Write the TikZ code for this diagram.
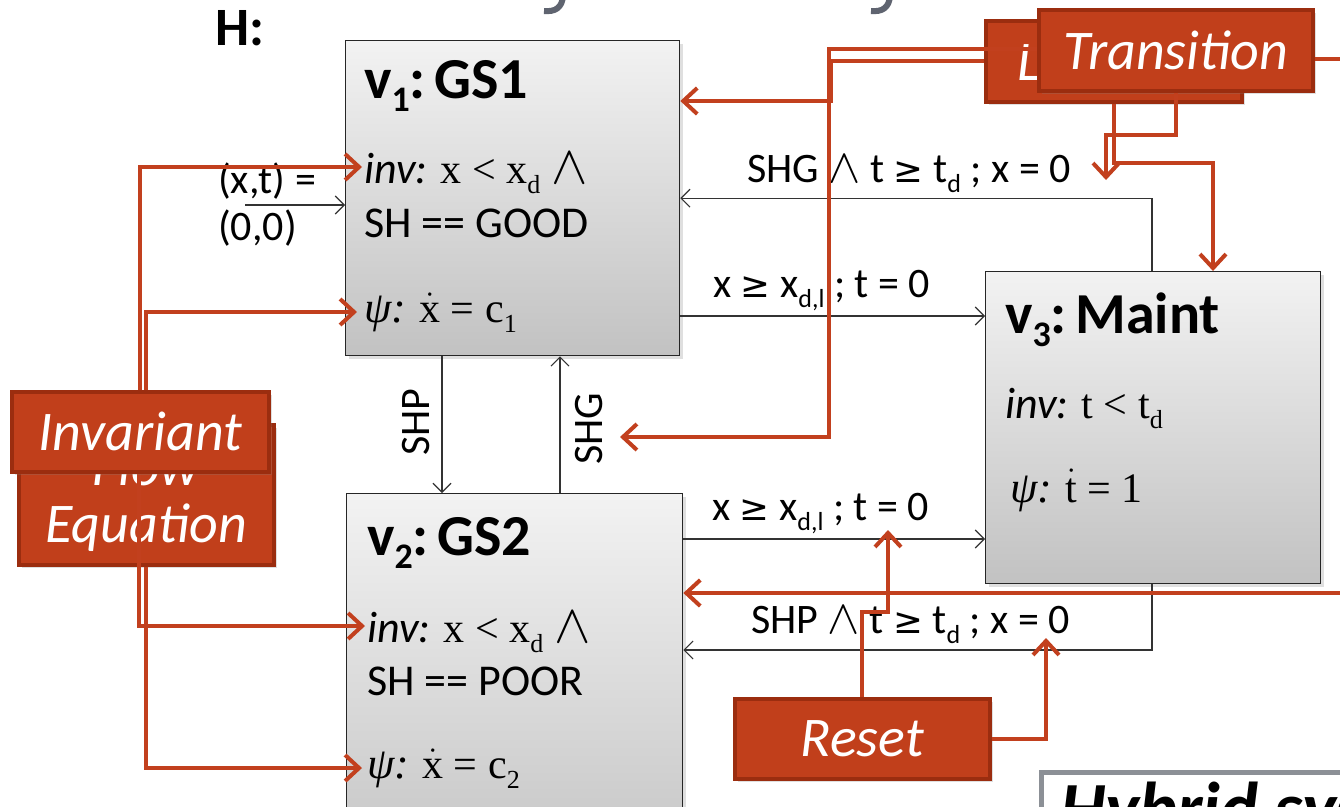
\documentclass[tikz,border=0pt]{standalone}
\usepackage{fix-cm}
\usepackage{fontspec}
\setmainfont{Carlito}
\newfontfamily\tms{Liberation Serif}
\newfontfamily\dvs{DejaVu Sans}
\usetikzlibrary{arrows.meta,shadows}
\definecolor{calfill}{HTML}{C13F1B}
\definecolor{calborder}{HTML}{9B2D0F}
\definecolor{calline}{HTML}{C2401E}
\definecolor{ttlgray}{HTML}{5F6470}
\definecolor{hybgray}{HTML}{8C9096}
\newcommand\mysub[1]{\raisebox{-0.24em}{\scalebox{0.62}{#1}}}
\newcommand\myge{{\dvs\scalebox{0.85}{≥}}}
\newcommand\myand[1]{\scalebox{#1}{\(\wedge\)}}
\newcommand\fs[1]{\fontsize{#1}{#1}\selectfont}
\begin{document}
\begin{tikzpicture}[x=1pt,y=-1pt,
  statebox/.style={draw=black!85, line width=1.3pt, top color=black!5, bottom color=black!24,
    inner sep=0pt, anchor=north west,
    drop shadow={shadow xshift=3pt, shadow yshift=-3pt, opacity=0.25}},
  tedge/.style={draw=black!80, line width=1.1pt, -{Straight Barb[length=9pt,width=18pt]}},
  txt/.style={anchor=base west, inner sep=0pt},
  ttl/.style={txt, font={\fs{58}\bfseries}},
  body/.style={txt, font={\fs{44}}},
  elab/.style={txt, font={\fs{42}}},
  callout/.style={fill=calfill, draw=calborder, line width=3.5pt, inner sep=0pt,
    anchor=north west, text=white, font={\fontsize{56}{57}\selectfont\itshape}, align=center,
    drop shadow={shadow xshift=3pt, shadow yshift=-3pt, opacity=0.25}},
  cline/.style={draw=calline, line width=4pt},
  carrow/.style={cline, -{Straight Barb[length=14pt,width=26pt]}},
]
\useasboundingbox (0,0) rectangle (1340,806);
\clip (0,0) rectangle (1340,806);
\fill[white] (0,0) rectangle (1340,806);

% fragments of the cut-off title
\draw[ttlgray, line width=6pt] (563,-4) .. controls (562,8) and (555,12) .. (544,11);
\draw[ttlgray, line width=6pt] (890,-4) .. controls (889,8) and (882,12) .. (871,11);

\node[txt, font={\fs{54}\bfseries}] (hlabel) at (215,45) {H:};

% states
\node[statebox, minimum width=334pt, minimum height=315pt] (v1) at (345,40) {};
\node[statebox, minimum width=336pt, minimum height=400pt] (v2) at (346,493) {};
\node[statebox, minimum width=335pt, minimum height=312pt] (v3) at (985,271) {};

% helper coordinates
\coordinate (e1) at (0,316);
\coordinate (e2) at (1152,0);
\coordinate (e3) at (0,539);
\coordinate (e4) at (0,650);
\coordinate (e5) at (442,0);
\coordinate (e6) at (560,0);
\coordinate (e7) at (245,205);

% transitions
\draw[tedge] (v1.east |- e1) -- (v3.west |- e1);
\draw[tedge] (v3.north -| e2) |- (v1.east);
\draw[tedge] (v2.east |- e3) -- (v3.west |- e3);
\draw[tedge] (v3.south -| e2) |- (v2.east |- e4);
\draw[tedge] (v1.south -| e5) -- (v2.north -| e5);
\draw[tedge] (v2.north -| e6) -- (v1.south -| e6);
\draw[tedge] (e7) -- (v1.west |- e7);

% transition labels
\node[elab] (l13) at (713,297) {x \myge{} x\mysub{d,l} ; t = 0};
\node[elab] (l31) at (747,182) {SHG \myand{1.15} t \myge{} t\mysub{d} ; x = 0};
\node[elab] (l23) at (712,520) {x \myge{} x\mysub{d,l} ; t = 0};
\node[elab] (l32) at (751,633) {SHP \myand{1.15} t \myge{} t\mysub{d} ; x = 0};
\node[rotate=90, inner sep=0pt, font={\fs{42}}] (shp) at (416,422) {SHP};
\node[rotate=90, inner sep=0pt, font={\fs{42}}] (shg) at (589,429) {SHG};
\node[elab] (init1) at (218,193) {(x,t) =};
\node[elab] (init2) at (218,240) {(0,0)};

% state contents
\node[ttl] (v1t) at (364,98) {v\mysub{1}:\hspace{0.15em}GS1};
\node[body] (v1i) at (364,183) {\textit{inv:} {\tms\fs{42}x < x\mysub{d} \myand{1.3}}};
\node[body] (v1s) at (364,237) {SH == GOOD};
\node[body] (v1p) at (364,322) {{\tms\fs{44}\itshape ψ:} {\tms\fs{42}\(\dot{\hbox{x}}\) = c\mysub{1}}};

\node[ttl] (v2t) at (367,555) {v\mysub{2}:\hspace{0.15em}GS2};
\node[body] (v2i) at (367,642) {\textit{inv:} {\tms\fs{42}x < x\mysub{d} \myand{1.3}}};
\node[body] (v2s) at (367,695) {SH == POOR};
\node[body] (v2p) at (367,778) {{\tms\fs{44}\itshape ψ:} {\tms\fs{42}\(\dot{\hbox{x}}\) = c\mysub{2}}};

\node[ttl] (v3t) at (1005,333) {v\mysub{3}:\hspace{0.15em}Maint};
\node[body] (v3i) at (1005,418) {\textit{inv:} {\tms\fs{42}t < t\mysub{d}}};
\node[body] (v3p) at (1010,502) {{\tms\fs{44}\itshape ψ:} {\tms\fs{42}\(\dot{\hbox{t}}\) = 1}};

% ---------- callouts: Location / Transition ----------
\node[callout, minimum width=256pt, minimum height=81pt] (loc) at (984,19) {Location};
\coordinate (k1) at (829,437);
\coordinate (tS) at (620,437);
\coordinate (k5) at (831,101);
\draw[carrow] (loc.west) -| (k5) -- (v1.east |- k5);
\coordinate (trw) at (1037,49);
\draw[carrow] (trw) -| (k1) -- (tS);
\node[callout, minimum width=274pt, minimum height=81pt] (trans) at (1037,8) {Transition};
\coordinate (r2) at (1345,59);
\draw[cline] (trans.east |- r2) -- (r2);
\coordinate (k2) at (1106,135);
\coordinate (tA) at (1106,180);
\draw[carrow] (trans.south) |- (k2) -- (tA);
\coordinate (k3) at (1213,163);
\draw[carrow] (loc.south) |- (k3) -- (v3.north -| k3);

% long connector to v2 from the right
\coordinate (r1) at (1345,593);
\draw[carrow] (r1) -- (v2.east |- r1);

% ---------- callouts: Flow Equation / Invariant ----------
\node[callout, minimum width=255pt, minimum height=140pt, text depth=0pt] (flow) at (17,423) {Flow\\Equation};
\coordinate (tF1) at (357,312);
\coordinate (tF2) at (362,768);
\draw[carrow] (flow.north) |- (tF1);
\draw[carrow] (flow.south) |- (tF2);
\coordinate (tI1) at (362,167);
\coordinate (tI2) at (365,626);
\coordinate (invb) at (138.5,470);
\draw[carrow] (invb) |- (tI2);
\node[callout, minimum width=257pt, minimum height=80pt] (inv) at (10,390) {Invariant};
\draw[carrow] (inv.north) |- (tI1);

% ---------- Reset ----------
\node[callout, minimum width=255pt, minimum height=80pt] (reset) at (733,697) {Reset};
\coordinate (k4) at (888,612);
\coordinate (tR1) at (888,530);
\coordinate (tR2) at (1046,638);
\draw[carrow] (reset.north) |- (k4) -- (tR1);
\draw[carrow] (reset.east) -| (tR2);

% ---------- cut-off box at bottom right ----------
\node[draw=hybgray, line width=5pt, fill=white, inner sep=0pt, anchor=north west,
  minimum width=330pt, minimum height=90pt] (hyb) at (1039,770) {};
\node[txt, font={\fs{72}\bfseries\itshape}] (hybt) at (1060,832) {Hybrid system};
\end{tikzpicture}
\end{document}
